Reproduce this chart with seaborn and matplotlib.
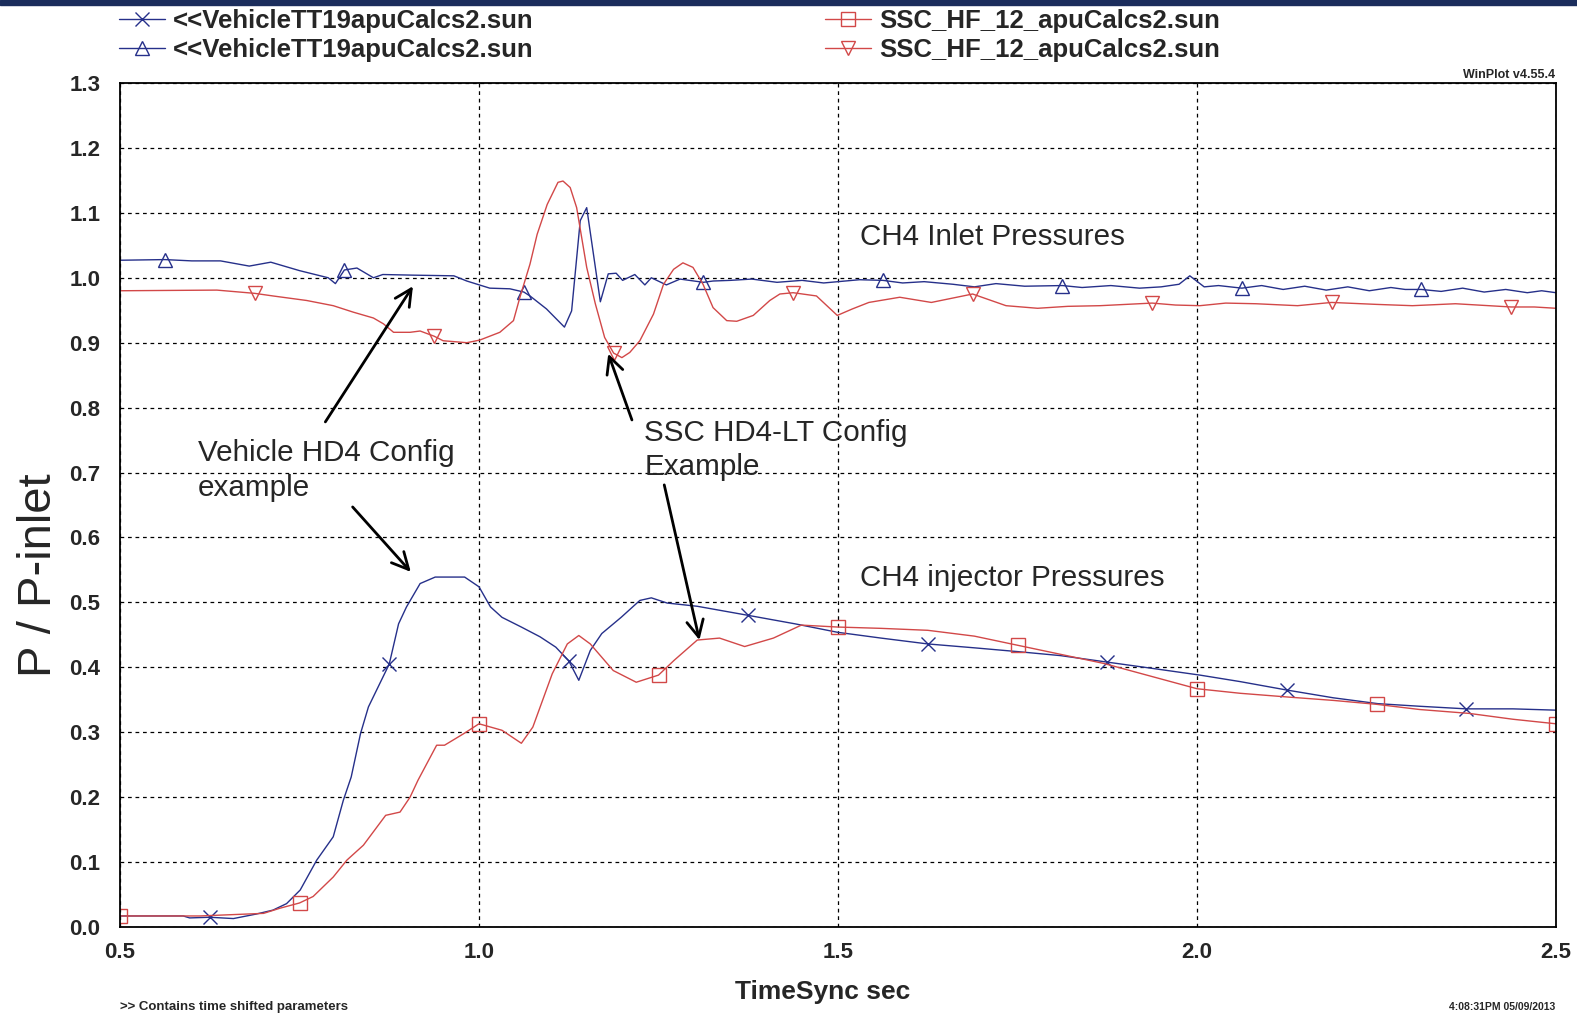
import numpy as np
import matplotlib
matplotlib.use("Agg")
import matplotlib.pyplot as plt
import seaborn as sns
from matplotlib.lines import Line2D
from matplotlib.patches import Rectangle
from matplotlib.ticker import FormatStrFormatter, MultipleLocator

# Vehicle inlet pressure (blue, triangle-up markers)
veh_inlet_t = [0.50, 0.5625, 0.60, 0.64, 0.66, 0.68, 0.71, 0.75, 0.79, 0.80,
               0.8125, 0.83, 0.853, 0.866, 0.91, 0.965, 0.983, 1.015, 1.043, 1.0625,
               1.071, 1.094, 1.119, 1.129, 1.141, 1.150, 1.169, 1.180, 1.191, 1.200,
               1.217, 1.231, 1.240, 1.261, 1.280, 1.3125, 1.326, 1.35, 1.38, 1.415,
               1.45, 1.48, 1.50, 1.53, 1.5625, 1.59, 1.62, 1.66, 1.69, 1.72,
               1.76, 1.8125, 1.84, 1.88, 1.92, 1.95, 1.975, 1.99, 2.01, 2.03,
               2.0625, 2.09, 2.12, 2.15, 2.18, 2.21, 2.24, 2.27, 2.29, 2.3125,
               2.34, 2.37, 2.40, 2.43, 2.46, 2.48, 2.50]
veh_inlet_p = [1.027, 1.028, 1.026, 1.026, 1.022, 1.018, 1.024, 1.011, 1.000, 0.991,
               1.012, 1.015, 1.000, 1.005, 1.004, 1.003, 0.995, 0.984, 0.983, 0.978,
               0.972, 0.952, 0.924, 0.949, 1.088, 1.108, 0.963, 1.006, 1.007, 0.996,
               1.005, 0.989, 1.000, 0.989, 0.998, 0.993, 0.995, 0.996, 0.998, 0.993,
               0.996, 0.992, 0.994, 0.997, 0.996, 0.992, 0.994, 0.990, 0.986, 0.991,
               0.987, 0.988, 0.985, 0.988, 0.984, 0.986, 0.990, 1.003, 0.986, 0.988,
               0.984, 0.988, 0.982, 0.987, 0.981, 0.986, 0.980, 0.985, 0.982, 0.982,
               0.979, 0.984, 0.978, 0.982, 0.977, 0.980, 0.977]
veh_inlet_marks = [0.5625, 0.8125, 1.0625, 1.3125, 1.5625, 1.8125, 2.0625, 2.3125]

# SSC inlet pressure (red, triangle-down markers)
ssc_inlet_t = [0.50, 0.635, 0.6875, 0.713, 0.76, 0.797, 0.825, 0.853, 0.867, 0.881,
               0.904, 0.918, 0.9375, 0.95, 0.983, 1.001, 1.029, 1.048, 1.057, 1.071,
               1.081, 1.095, 1.110, 1.117, 1.127, 1.136, 1.150, 1.162, 1.175, 1.1875,
               1.199, 1.210, 1.224, 1.243, 1.257, 1.271, 1.284, 1.298, 1.312, 1.326,
               1.345, 1.359, 1.382, 1.405, 1.419, 1.4375, 1.47, 1.499, 1.52, 1.543,
               1.586, 1.63, 1.6875, 1.734, 1.778, 1.82, 1.865, 1.9375, 1.97, 2.004,
               2.04, 2.082, 2.14, 2.1875, 2.25, 2.30, 2.36, 2.4375, 2.47, 2.50]
ssc_inlet_p = [0.980, 0.981, 0.976, 0.972, 0.965, 0.957, 0.947, 0.938, 0.929, 0.916,
               0.916, 0.918, 0.910, 0.903, 0.900, 0.904, 0.916, 0.934, 0.970, 1.021,
               1.067, 1.113, 1.147, 1.149, 1.139, 1.108, 1.016, 0.960, 0.908, 0.884,
               0.877, 0.885, 0.903, 0.944, 0.990, 1.013, 1.023, 1.016, 0.990, 0.954,
               0.934, 0.933, 0.942, 0.965, 0.975, 0.977, 0.972, 0.942, 0.952, 0.962,
               0.970, 0.962, 0.975, 0.957, 0.953, 0.956, 0.957, 0.961, 0.958, 0.957,
               0.961, 0.960, 0.957, 0.962, 0.959, 0.957, 0.960, 0.955, 0.955, 0.953]
ssc_inlet_marks = [0.6875, 0.9375, 1.1875, 1.4375, 1.6875, 1.9375, 2.1875, 2.4375]

# Vehicle injector pressure (blue, x markers)
veh_inj_t = [0.50, 0.588, 0.597, 0.625, 0.658, 0.690, 0.713, 0.732, 0.751, 0.774,
             0.797, 0.811, 0.822, 0.835, 0.846, 0.875, 0.888, 0.899, 0.918, 0.939,
             0.980, 1.000, 1.016, 1.032, 1.059, 1.085, 1.107, 1.125, 1.139, 1.155,
             1.171, 1.198, 1.224, 1.240, 1.262, 1.304, 1.375, 1.44, 1.499, 1.56,
             1.625, 1.69, 1.752, 1.81, 1.875, 1.94, 2.004, 2.06, 2.125, 2.19,
             2.252, 2.31, 2.375, 2.44, 2.50]
veh_inj_p = [0.017, 0.017, 0.014, 0.015, 0.013, 0.020, 0.026, 0.036, 0.057, 0.103,
             0.139, 0.195, 0.231, 0.298, 0.339, 0.405, 0.467, 0.493, 0.529, 0.539,
             0.539, 0.524, 0.493, 0.477, 0.462, 0.447, 0.431, 0.410, 0.380, 0.426,
             0.452, 0.477, 0.503, 0.507, 0.499, 0.494, 0.480, 0.467, 0.454, 0.445,
             0.436, 0.430, 0.424, 0.418, 0.408, 0.398, 0.388, 0.378, 0.365, 0.353,
             0.344, 0.340, 0.336, 0.336, 0.334]
veh_inj_marks = [0.625, 0.875, 1.125, 1.375, 1.625, 1.875, 2.125, 2.375]

# SSC injector pressure (red, square markers)
ssc_inj_t = [0.50, 0.611, 0.700, 0.723, 0.75, 0.769, 0.797, 0.816, 0.839, 0.870,
             0.890, 0.904, 0.915, 0.941, 0.952, 0.979, 1.00, 1.032, 1.059, 1.075,
             1.102, 1.123, 1.139, 1.155, 1.187, 1.219, 1.25, 1.272, 1.304, 1.335,
             1.370, 1.41, 1.449, 1.50, 1.56, 1.625, 1.69, 1.75, 1.81, 1.870,
             1.94, 2.00, 2.06, 2.129, 2.19, 2.25, 2.31, 2.379, 2.44, 2.50]
ssc_inj_p = [0.017, 0.017, 0.021, 0.029, 0.037, 0.047, 0.077, 0.103, 0.126, 0.172,
             0.177, 0.200, 0.226, 0.280, 0.280, 0.298, 0.313, 0.303, 0.283, 0.308,
             0.390, 0.436, 0.449, 0.436, 0.395, 0.377, 0.388, 0.411, 0.442, 0.445,
             0.432, 0.445, 0.465, 0.462, 0.460, 0.457, 0.448, 0.434, 0.420, 0.406,
             0.385, 0.367, 0.360, 0.354, 0.349, 0.343, 0.335, 0.329, 0.320, 0.313]
ssc_inj_marks = [0.50, 0.75, 1.00, 1.25, 1.50, 1.75, 2.00, 2.25, 2.50]

legend_labels = ["<<VehicleTT19apuCalcs2.sun", "<<VehicleTT19apuCalcs2.sun",
                 "SSC_HF_12_apuCalcs2.sun", "SSC_HF_12_apuCalcs2.sun"]

BLUE = "#26308a"
RED = "#d24848"

sns.set_style("white")
plt.rcParams['font.family'] = ['Liberation Sans', 'DejaVu Sans']

fig = plt.figure(figsize=(15.77, 10.14), dpi=100)
ax = fig.add_axes([120 / 1577, 1 - 927 / 1014, 1436 / 1577, 844 / 1014])

series = [
    (veh_inj_t, veh_inj_p, veh_inj_marks, BLUE, 'x'),
    (veh_inlet_t, veh_inlet_p, veh_inlet_marks, BLUE, '^'),
    (ssc_inj_t, ssc_inj_p, ssc_inj_marks, RED, 's'),
    (ssc_inlet_t, ssc_inlet_p, ssc_inlet_marks, RED, 'v'),
]
for t, p, marks, c, m in series:
    mask = np.isin(np.round(t, 4), np.round(marks, 4))
    sns.lineplot(x=t, y=p, ax=ax, color=c, lw=1.0, marker=m, markevery=list(mask),
                 markersize=10, markeredgecolor=c, markerfacecolor='none',
                 markeredgewidth=1.0, sort=False, estimator=None, legend=False)

ax.set_xlim(0.5, 2.5)
ax.set_ylim(0.0, 1.3)
ax.xaxis.set_major_locator(MultipleLocator(0.5))
ax.yaxis.set_major_locator(MultipleLocator(0.1))
ax.xaxis.set_major_formatter(FormatStrFormatter('%.1f'))
ax.yaxis.set_major_formatter(FormatStrFormatter('%.1f'))
ax.grid(True, color='black', linestyle=(0, (3, 3)), lw=0.9)
for s in ax.spines.values():
    s.set_color('black')
    s.set_linewidth(1.3)
ax.tick_params(axis='y', direction='out', length=8, width=1, pad=6, labelsize=16)
ax.tick_params(axis='x', direction='out', length=4, width=1, pad=7, labelsize=16)
for lbl in ax.get_xticklabels() + ax.get_yticklabels():
    lbl.set_fontweight('bold')

ax.set_xlabel("TimeSync sec", fontsize=19, fontweight='bold')
ax.xaxis.set_label_coords(0.489, -0.063)
ax.set_ylabel("P / P-inlet", fontsize=34)
ax.yaxis.set_label_coords(-0.041, 0.417)

# annotations
ax.text(1.530, 1.063, "CH4 Inlet Pressures", fontsize=21.3, va='center')
ax.text(1.530, 0.538, "CH4 injector Pressures", fontsize=21.3, va='center')
ax.text(0.608, 0.703, "Vehicle HD4 Config\nexample", fontsize=21.3, va='center',
        linespacing=1.3)
ax.text(1.230, 0.735, "SSC HD4-LT Config\nExample", fontsize=21.3, va='center',
        linespacing=1.3)
arrows = [((0.786, 0.778), (0.908, 0.987)),
          ((0.824, 0.647), (0.905, 0.547)),
          ((1.213, 0.781), (1.180, 0.883)),
          ((1.258, 0.681), (1.307, 0.442))]
for tail, head in arrows:
    ax.annotate("", xy=head, xytext=tail,
                arrowprops=dict(arrowstyle="->,head_length=0.8,head_width=0.4",
                                color='black', lw=2, mutation_scale=15,
                                shrinkA=0, shrinkB=0))

# legend in two columns above the plot
handles = [Line2D([], [], color=c, lw=1.0, marker=m, markersize=10,
                  markeredgecolor=c, markerfacecolor='none', markeredgewidth=1.0)
           for _, _, _, c, m in series]
for i, x0 in enumerate([119 / 1577, 825 / 1577]):
    leg = fig.legend(handles[2 * i:2 * i + 2], legend_labels[2 * i:2 * i + 2],
                     loc='upper left', bbox_to_anchor=(x0, 1 - 9 / 1014),
                     frameon=False, borderpad=0, borderaxespad=0,
                     handlelength=1.8, handletextpad=0.3, labelspacing=0.18,
                     prop={'size': 18.5, 'weight': 'bold'})

fig.text(1555 / 1577, 1 - 75 / 1014, "WinPlot v4.55.4", ha='right', va='center',
         fontsize=9, fontweight='bold')
fig.text(120 / 1577, 1 - 1007 / 1014, ">> Contains time shifted parameters",
         ha='left', va='center', fontsize=9.5, fontweight='bold')
fig.text(1555 / 1577, 1 - 1007 / 1014, "4:08:31PM 05/09/2013", ha='right',
         va='center', fontsize=7.5, fontweight='bold')

# dark slide band at the very top
fig.add_artist(Rectangle((0, 1 - 5 / 1014), 1, 5 / 1014, transform=fig.transFigure,
                         color='#1b2d5c', zorder=10))

fig.savefig("out.png", dpi=100)
